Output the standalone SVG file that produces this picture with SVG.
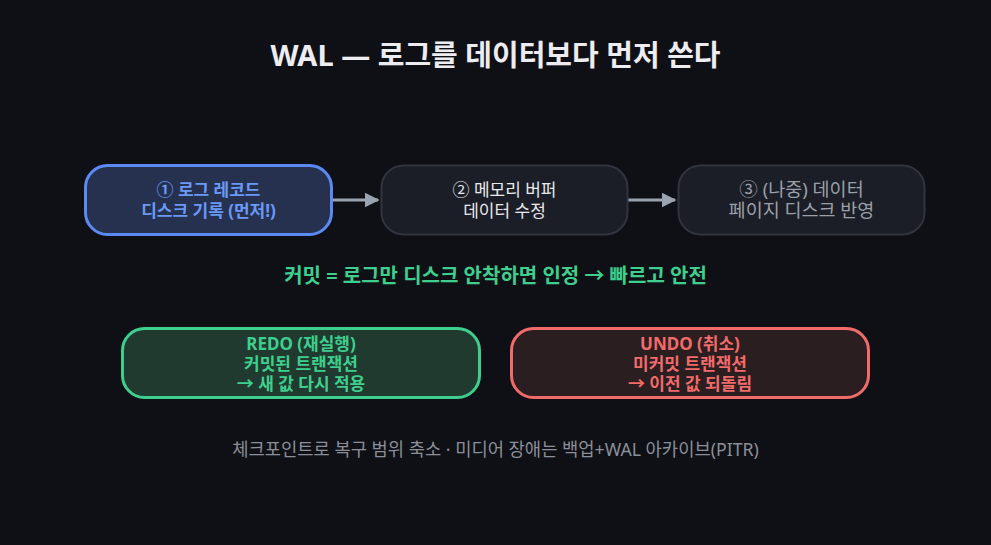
<svg xmlns="http://www.w3.org/2000/svg" width="991" height="545" viewBox="0 0 991 545">
<defs>
<marker id="ah" viewBox="0 0 10 10" refX="9" refY="5" markerWidth="5" markerHeight="5" markerUnits="strokeWidth" orient="auto"><path d="M0,0 L10,5 L0,10 z" fill="#9aa3b0"/></marker>
<style>
text{font-family:"Noto Sans","Noto Sans CJK KR",sans-serif;text-anchor:middle}
.t{font-size:29px;font-weight:700;fill:#ececf1}
.n{font-size:17px}
.b{font-weight:700}
.conn{stroke:#9aa3b0;stroke-width:3;fill:none}
</style>
</defs>
<rect width="991" height="545" fill="#0f1015"/>
<text class="t" x="495.5" y="66">WAL — 로그를 데이터보다 먼저 쓴다</text>
<g id="connectors">
<line class="conn" x1="332" y1="200" x2="378" y2="200" marker-end="url(#ah)"/>
<line class="conn" x1="628" y1="200" x2="675" y2="200" marker-end="url(#ah)"/>
</g>
<g id="n1">
<rect x="85.5" y="165.5" width="246" height="69" rx="22" fill="#263150" stroke="#5b8af5" stroke-width="3"/>
<text class="n b" x="208.5" y="196" fill="#6a99f7">① 로그 레코드</text>
<text class="n b" x="208.5" y="217" fill="#6a99f7">디스크 기록 (먼저!)</text>
</g>
<g id="n2">
<rect x="381.5" y="165.5" width="246" height="69" rx="22" fill="#1b1e26" stroke="#30343e" stroke-width="2"/>
<text class="n" x="504.5" y="196" fill="#e8e9ec">② 메모리 버퍼</text>
<text class="n" x="504.5" y="217" fill="#e8e9ec">데이터 수정</text>
</g>
<g id="n3">
<rect x="678.5" y="165.5" width="246" height="69" rx="22" fill="#1b1e26" stroke="#30343e" stroke-width="2"/>
<text x="801.5" y="196" font-size="18.5" fill="#9aa0ab">③ (나중) 데이터</text>
<text x="801.5" y="217" font-size="18.5" fill="#9aa0ab">페이지 디스크 반영</text>
</g>
<text x="495.5" y="283" font-size="20" font-weight="700" fill="#3ecf8e">커밋 = 로그만 디스크 안착하면 인정 → 빠르고 안전</text>
<g id="redo">
<rect x="122.5" y="328.5" width="357" height="69" rx="22" fill="#213a2f" stroke="#3ecf8e" stroke-width="3"/>
<text class="n b" x="301" y="350" fill="#3ecf8e">REDO (재실행)</text>
<text class="n b" x="301" y="370" fill="#3ecf8e">커밋된 트랜잭션</text>
<text class="n b" x="301" y="390" fill="#3ecf8e">→ 새 값 다시 적용</text>
</g>
<g id="undo">
<rect x="511.5" y="328.5" width="357" height="69" rx="22" fill="#2a1e20" stroke="#f26b6b" stroke-width="3"/>
<text class="n b" x="690" y="350" fill="#f26b6b">UNDO (취소)</text>
<text class="n b" x="690" y="370" fill="#f26b6b">미커밋 트랜잭션</text>
<text class="n b" x="690" y="390" fill="#f26b6b">→ 이전 값 되돌림</text>
</g>
<text x="495.5" y="456" font-size="17.7" fill="#8b8f99">체크포인트로 복구 범위 축소 · 미디어 장애는 백업+WAL 아카이브(PITR)</text>
</svg>
